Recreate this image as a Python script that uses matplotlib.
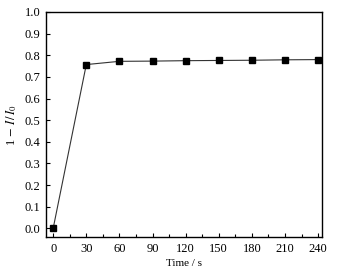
import matplotlib
matplotlib.use("Agg")
import matplotlib.pyplot as plt
from matplotlib.ticker import MultipleLocator

time_s = [0, 30, 60, 90, 120, 150, 180, 210, 240]
ratio = [0.0, 0.757, 0.772, 0.773, 0.775, 0.776, 0.777, 0.779, 0.780]

plt.rcParams['font.family'] = ['Liberation Serif', 'DejaVu Serif']
plt.rcParams['mathtext.fontset'] = 'stix'

fig = plt.figure(figsize=(3.37, 2.77), dpi=100)
ax = fig.add_axes([46 / 337, 1 - 237 / 277, (322 - 46) / 337, (237 - 12) / 277])

ax.plot(time_s, ratio, color='#333333', lw=0.8, marker='s', ms=4.5,
        mfc='black', mec='black')

ax.set_xlim(-6.5, 243.5)
ax.set_ylim(-0.04, 1.0)
ax.xaxis.set_major_locator(MultipleLocator(30))
ax.xaxis.set_minor_locator(MultipleLocator(15))
ax.yaxis.set_major_locator(MultipleLocator(0.1))
ax.yaxis.set_major_formatter(matplotlib.ticker.FormatStrFormatter('%.1f'))
ax.tick_params(direction='in', labelsize=9, length=3, width=0.8,
               top=False, right=False, pad=4)
ax.tick_params(which='minor', direction='in', length=2, width=0.8,
               top=False, right=False)
for s in ax.spines.values():
    s.set_linewidth(1.0)

ax.set_xlabel('Time / s', fontsize=8, labelpad=3)
ax.set_ylabel(r'1 $-$ $I\,/\,I_0$', fontsize=9, labelpad=4)

fig.savefig('out.png', dpi=100)
